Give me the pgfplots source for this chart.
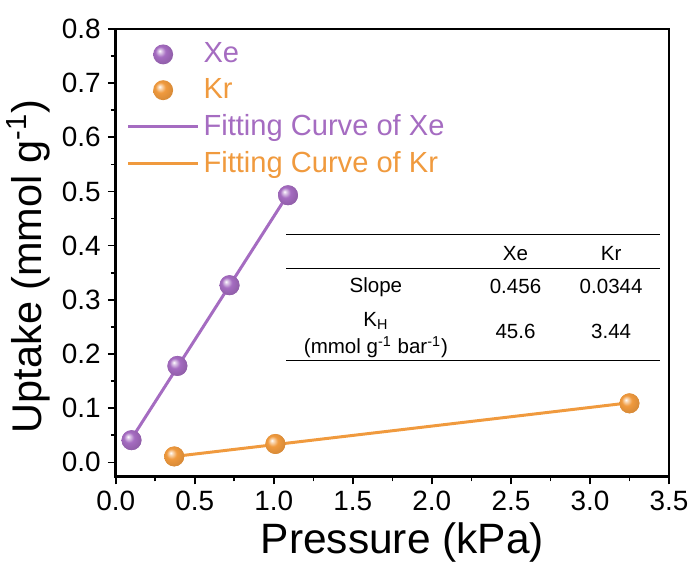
\documentclass[border=0pt]{standalone}
\usepackage{pgfplots}
\pgfplotsset{compat=1.18}
\usepackage{fontspec}
\setmainfont{Liberation Sans}

\definecolor{xecol}{HTML}{A56CC1}
\definecolor{krcol}{HTML}{F09A3E}

% soft 3D ball markers
\pgfdeclareradialshading{xeball}{\pgfqpoint{-9bp}{9bp}}{%
  color(0bp)=(white); color(4bp)=(xecol!35!white); color(13bp)=(xecol);
  color(25bp)=(xecol!90!black); color(50bp)=(xecol!75!black)}
\pgfdeclareradialshading{krball}{\pgfqpoint{-9bp}{9bp}}{%
  color(0bp)=(white); color(4bp)=(krcol!35!white); color(13bp)=(krcol);
  color(25bp)=(krcol!92!black); color(50bp)=(krcol!75!black)}
\pgfdeclareplotmark{xeball}{\pgfpathcircle{\pgfpointorigin}{\pgfplotmarksize}\pgfshadepath{xeball}{0}\pgfusepath{}}
\pgfdeclareplotmark{krball}{\pgfpathcircle{\pgfpointorigin}{\pgfplotmarksize}\pgfshadepath{krball}{0}\pgfusepath{}}

\begin{document}
\begin{tikzpicture}
\begin{axis}[
    width=277.5pt, height=224.5pt,
    scale only axis,
    xmin=0, xmax=3.5,
    ymin=-0.026, ymax=0.8,
    xtick={0,0.5,...,3.5},
    ytick={0,0.1,...,0.8},
    minor x tick num=1,
    minor y tick num=1,
    xtick pos=left, ytick pos=left,
    tick align=outside,
    major tick length=4pt,
    minor tick length=2.5pt,
    every tick/.style={black, line width=0.8pt},
    axis line style={line width=1.4pt},
    xticklabel style={/pgf/number format/fixed, /pgf/number format/fixed zerofill, /pgf/number format/precision=1},
    yticklabel style={/pgf/number format/fixed, /pgf/number format/fixed zerofill, /pgf/number format/precision=1},
    /pgf/number format/assume math mode=true,
    tick label style={font=\fontsize{14}{16}\selectfont},
    xlabel={Pressure (kPa)},
    ylabel={Uptake (mmol g\textsuperscript{-1})},
    label style={font=\fontsize{20.8}{23}\selectfont},
    xlabel style={yshift=1pt, xshift=5pt, font=\fontsize{21.3}{23}\selectfont},
    ylabel style={yshift=-1pt, xshift=-7pt},
    legend cell align=left,
    legend style={draw=none, fill=none, at={(rel axis cs:0.0156,0.983)}, anchor=north west,
        font=\fontsize{14.6}{16.5}\selectfont, row sep=2.4pt, inner sep=1pt},
    legend image code/.code={\draw[mark repeat=2,mark phase=2,#1] plot coordinates {(0pt,0pt)(17.5pt,0pt)(35pt,0pt)};},
]
% measured points
\addplot[only marks, mark=xeball, mark size=5pt]
    coordinates {(0.10,0.041)(0.39,0.178)(0.72,0.327)(1.09,0.493)};
\addlegendentry{\textcolor{xecol}{Xe}}
\addplot[only marks, mark=krball, mark size=5pt]
    coordinates {(0.37,0.011)(1.01,0.034)(3.25,0.109)};
\addlegendentry{\textcolor{krcol}{Kr}}
% linear fits
\addplot[xecol, line width=1.5pt] coordinates {(0.10,0.0436)(1.09,0.4950)};
\addlegendentry{\textcolor{xecol}{Fitting Curve of Xe}}
\addplot[krcol, line width=1.5pt] coordinates {(0.37,0.0109)(3.25,0.1100)};
\addlegendentry{\textcolor{krcol}{Fitting Curve of Kr}}
% markers again, above the lines
\addplot[only marks, mark=xeball, mark size=5pt, forget plot]
    coordinates {(0.10,0.041)(0.39,0.178)(0.72,0.327)(1.09,0.493)};
\addplot[only marks, mark=krball, mark size=5pt, forget plot]
    coordinates {(0.37,0.011)(1.01,0.034)(3.25,0.109)};

% inset table
\draw[line width=0.5pt] (axis cs:1.078,0.421) -- (axis cs:3.443,0.421);
\draw[line width=0.5pt] (axis cs:1.078,0.357) -- (axis cs:3.443,0.357);
\draw[line width=0.5pt] (axis cs:1.078,0.188) -- (axis cs:3.443,0.188);
\begin{scope}[every node/.style={font=\fontsize{10.3}{12}\selectfont, inner sep=0pt}]
\node at (axis cs:2.529,0.386) {Xe};
\node at (axis cs:3.134,0.386) {Kr};
\node at (axis cs:1.646,0.324) {Slope};
\node at (axis cs:2.529,0.324) {0.456};
\node at (axis cs:3.134,0.324) {0.0344};
\node at (axis cs:1.646,0.261) {K\textsubscript{H}};
\node at (axis cs:1.646,0.213) {(mmol g\textsuperscript{-1} bar\textsuperscript{-1})};
\node at (axis cs:2.529,0.241) {45.6};
\node at (axis cs:3.134,0.241) {3.44};
\end{scope}
\end{axis}
% page extent to match the reference proportions
\path (-57pt,-43.5pt) rectangle (290.5pt,239pt);
\end{tikzpicture}
\end{document}
